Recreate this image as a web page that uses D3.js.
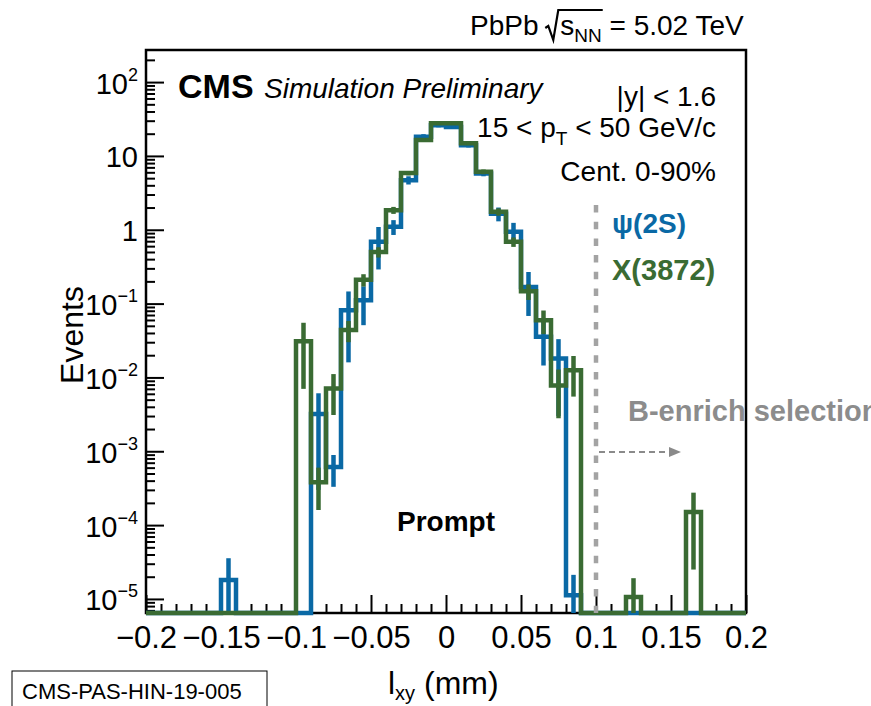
<!DOCTYPE html>
<html>
<head>
<meta charset="utf-8">
<script src="https://cdn.jsdelivr.net/npm/d3@7"></script>
<style>
  body { margin: 0; background: #fff; }
  text { font-family: "Liberation Sans", Arial, sans-serif; }
</style>
</head>
<body>
<svg id="svg" width="871" height="706"></svg>
<script>
// DATA  (l_xy bins of 0.01 mm, from -0.2 to 0.2)
var binCenters = [-0.195, -0.185, -0.175, -0.165, -0.155, -0.145, -0.135, -0.125, -0.115, -0.105,
                  -0.095, -0.085, -0.075, -0.065, -0.055, -0.045, -0.035, -0.025, -0.015, -0.005,
                   0.005,  0.015,  0.025,  0.035,  0.045,  0.055,  0.065,  0.075,  0.085,  0.095,
                   0.105,  0.115,  0.125,  0.135,  0.145,  0.155,  0.165,  0.175,  0.185,  0.195];

// psi(2S)
var psiValues = [0, 0, 0, 0, 0, 1.8e-5, 0, 0, 0, 0,
                 0, 3.2e-3, 6.1e-4, 0.081, 0.111, 0.69, 1.1, 4.7, 18.2, 26,
                 24.7, 14, 5.8, 1.65, 0.94, 0.168, 0.0355, 0.018, 1.12e-5, 0,
                 0, 0, 0, 0, 0, 0, 0, 0, 0, 0];
var psiErrors = [0, 0, 0, 0, 0, 1.76e-5, 0, 0, 0, 0,
                 0, 2.9e-3, 2.8e-4, 0.065, 0.06, 0.4, 0.25, 0.6, 1.5, 1.6,
                 1.5, 1.0, 0.5, 0.35, 0.3, 0.1, 0.021, 0.015, 1.0e-5, 0,
                 0, 0, 0, 0, 0, 0, 0, 0, 0, 0];

// X(3872)
var x3872Values = [0, 0, 0, 0, 0, 0, 0, 0, 0, 0,
                   0.031, 3.8e-4, 0.0071, 0.044, 0.21, 0.50, 1.84, 5.85, 16.4, 27.6,
                   27.6, 14.8, 6.1, 1.75, 0.686, 0.147, 0.0596, 0.0078, 0.0125, 0,
                   0, 0, 1.06e-5, 0, 0, 0, 1.5e-4, 0, 0, 0];
var x3872Errors = [0, 0, 0, 0, 0, 0, 0, 0, 0, 0,
                   0.024, 2.2e-4, 0.004, 0.014, 0.04, 0.08, 0.2, 0.4, 0.8, 1.1,
                   1.1, 0.8, 0.45, 0.2, 0.1, 0.035, 0.021, 0.005, 0.007, 0,
                   0, 0, 0.85e-5, 0, 0, 0, 1.25e-4, 0, 0, 0];

var xTickValues = [-0.2, -0.15, -0.1, -0.05, 0, 0.05, 0.1, 0.15, 0.2];
var xTickLabels = ["\u22120.2", "\u22120.15", "\u22120.1", "\u22120.05", "0", "0.05", "0.1", "0.15", "0.2"];
var yTickValues = [1e-5, 1e-4, 1e-3, 1e-2, 1e-1, 1, 10, 100];
var yTickBase = ["10", "10", "10", "10", "10", "1", "10", "10"];
var yTickSup = ["\u22125", "\u22124", "\u22123", "\u22122", "\u22121", "", "", "2"];

var binWidth = 0.01;
var cutValue = 0.1;

// SETUP
var svg = d3.select("#svg"),
  margin = { top: 50, right: 125, bottom: 93, left: 146 },
  width = 871 - margin.left - margin.right,
  height = 706 - margin.top - margin.bottom;

var blue = "#0a69a5", green = "#3a6b33", grey = "#a3a3a3";

var x = d3.scaleLinear().domain([-0.2, 0.2]).range([0, width]);
var y = d3.scaleLog().domain([6.45e-6, 272]).range([height, 0]);

function yv(v) { return v > 0 ? Math.min(y(v), height) : height; }

var g = svg.append("g")
  .attr("transform", "translate(" + margin.left + "," + margin.top + ")");

// frame
g.append("rect")
  .attr("width", width).attr("height", height)
  .attr("fill", "none").attr("stroke", "#000").attr("stroke-width", 2.5);

// x axis: major + minor ticks pointing up
var xAxis = g.append("g").attr("class", "axis axis--x")
  .attr("transform", "translate(0," + height + ")")
  .call(d3.axisBottom(x).tickValues(xTickValues).tickSizeInner(-18).tickSizeOuter(0).tickPadding(13)
    .tickFormat(function (d, i) { return xTickLabels[i]; }));
g.append("g").attr("class", "axis axis--xminor")
  .attr("transform", "translate(0," + height + ")")
  .call(d3.axisBottom(x).tickValues(x.ticks(40).filter(function (d) {
      return Math.abs(d * 20 - Math.round(d * 20)) > 1e-6; }))
    .tickSizeInner(-9).tickSizeOuter(0).tickFormat(""));

// y axis: decades + minor ticks pointing right
var yAxis = g.append("g").attr("class", "axis axis--y")
  .call(d3.axisLeft(y).tickValues(yTickValues).tickSizeInner(-18).tickSizeOuter(0).tickPadding(8));
g.append("g").attr("class", "axis axis--yminor")
  .call(d3.axisLeft(y).tickValues(y.ticks().filter(function (d) {
      return Math.abs(Math.log10(d) - Math.round(Math.log10(d))) > 1e-6; }))
    .tickSizeInner(-9).tickSizeOuter(0).tickFormat(""));

g.selectAll(".axis .domain").remove();
g.selectAll(".axis line").attr("stroke", "#000").attr("stroke-width", 2);
xAxis.selectAll("text").style("font-size", "31px").attr("fill", "#000");

yAxis.selectAll(".tick text").each(function (d, i) {
  var t = d3.select(this).text("").style("font-size", "29px").attr("fill", "#000").attr("dy", "0.38em");
  t.append("tspan").text(yTickBase[i]);
  if (yTickSup[i]) t.append("tspan").attr("dy", -13).style("font-size", "18px").text(yTickSup[i]);
});

// histograms
var line = d3.line()
  .x(function (d) { return x(d[0]); })
  .y(function (d) { return yv(d[1]); });

function drawHist(values, errors, color) {
  var pts = [];
  binCenters.forEach(function (c, i) {
    pts.push([c - binWidth / 2, values[i]]);
    pts.push([c + binWidth / 2, values[i]]);
  });
  g.append("path")
    .datum(pts)
    .attr("class", "line")
    .attr("fill", "none")
    .attr("stroke", color)
    .attr("stroke-width", 4.5)
    .attr("stroke-linejoin", "miter")
    .attr("d", line);

  var bins = binCenters.map(function (c, i) { return { c: c, v: values[i], e: errors[i] }; })
    .filter(function (d) { return d.v > 0; });
  g.selectAll(null)
    .data(bins)
    .enter().append("line")
    .attr("x1", function (d) { return x(d.c); })
    .attr("x2", function (d) { return x(d.c); })
    .attr("y1", function (d) { return yv(d.v + d.e); })
    .attr("y2", function (d) { return yv(d.v - d.e); })
    .attr("stroke", color)
    .attr("stroke-width", 4.5);
}

drawHist(psiValues, psiErrors, blue);
drawHist(x3872Values, x3872Errors, green);

// selection cut
g.append("line")
  .attr("x1", x(cutValue)).attr("x2", x(cutValue))
  .attr("y1", 155).attr("y2", height)
  .attr("stroke", grey).attr("stroke-width", 4.5).attr("stroke-dasharray", "7.5,9.2");
g.append("line")
  .attr("x1", x(cutValue) + 3).attr("x2", x(cutValue) + 76)
  .attr("y1", 402).attr("y2", 402)
  .attr("stroke", "#8a8a8a").attr("stroke-width", 2).attr("stroke-dasharray", "6,4");
g.append("path")
  .attr("d", "M" + (x(cutValue) + 73) + ",397L" + (x(cutValue) + 85) + ",402L" + (x(cutValue) + 73) + ",407Z")
  .attr("fill", "#8a8a8a");

// TEXTS
function txt(px, py, s, size, opts) {
  opts = opts || {};
  return svg.append("text").attr("x", px).attr("y", py)
    .style("font-size", size + "px")
    .style("font-weight", opts.weight || "normal")
    .style("font-style", opts.style || "normal")
    .attr("text-anchor", opts.anchor || "start")
    .attr("fill", opts.fill || "#000")
    .text(s);
}

txt(178, 98, "CMS", 34, { weight: "bold" });
txt(264, 98, "Simulation Preliminary", 28, { style: "italic" });

txt(716, 106, "|y| < 1.6", 28, { anchor: "end" });
var pt = txt(716, 137, "15 < p", 28, { anchor: "end" });
pt.append("tspan").attr("dy", 8).style("font-size", "19px").text("T");
pt.append("tspan").attr("dy", -8).text(" < 50 GeV/c");
txt(716, 181, "Cent. 0-90%", 28, { anchor: "end" });

txt(612, 233, "\u03c8(2S)", 28, { weight: "bold", fill: blue });
txt(612, 280, "X(3872)", 29, { weight: "bold", fill: green });

txt(x(0) + margin.left, 531, "Prompt", 28, { weight: "bold", anchor: "middle" });
txt(628, 421, "B-enrich selection", 29, { weight: "bold", fill: "#8c8c8c" });

// PbPb sqrt(s_NN)
var pb = txt(470, 35, "PbPb ", 28);
pb.append("tspan").attr("dx", 14).text("s");
pb.append("tspan").attr("dy", 7).style("font-size", "19px").text("NN");
pb.append("tspan").attr("dy", -7).text(" = 5.02 TeV");
var pbNode = pb.node();
var sx = pbNode.getStartPositionOfChar(5).x, nnEnd = pbNode.getEndPositionOfChar(7).x;
svg.append("path")
  .attr("d", "M" + (sx - 15) + ",28L" + (sx - 12) + ",26L" + (sx - 7) + ",40L" + (sx - 2) + ",10L" + (nnEnd + 1) + ",10")
  .attr("fill", "none").attr("stroke", "#000").attr("stroke-width", 2.2);

// axis titles
svg.append("text")
  .attr("transform", "translate(83," + (margin.top + 285) + ") rotate(-90)")
  .attr("text-anchor", "middle")
  .style("font-size", "32px")
  .text("Events");

var xt = txt(388, 694, "l", 32);
xt.append("tspan").attr("dy", 6).style("font-size", "20px").text("xy");
xt.append("tspan").attr("dy", -6).text(" (mm)");

// PAS box
svg.append("rect").attr("x", 12).attr("y", 671).attr("width", 255).attr("height", 45)
  .attr("fill", "none").attr("stroke", "#000").attr("stroke-width", 1);
txt(22, 699, "CMS-PAS-HIN-19-005", 22);
</script>
</body>
</html>
